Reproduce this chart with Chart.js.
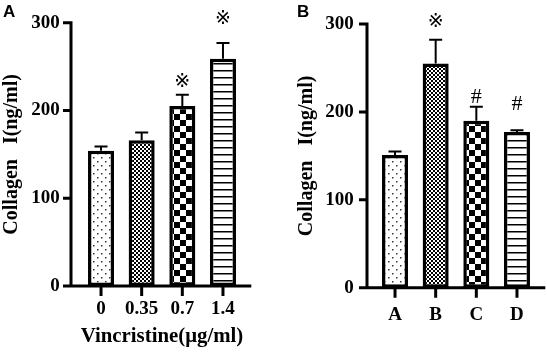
<!DOCTYPE html>
<html>
<head>
<meta charset="utf-8">
<script src="https://cdn.jsdelivr.net/npm/chart.js@4"></script>
<style>
  body { margin: 0; background: #fff; }
  #wrap { position: relative; width: 547px; height: 353px; overflow: hidden; }
  canvas { position: absolute; top: 0; }
  .panel { position: absolute; font: bold 17px "Liberation Sans", Arial, sans-serif; line-height: 17px; }
</style>
</head>
<body>
<div id="wrap">
  <canvas id="chartA" width="295" height="353" style="left:0"></canvas>
  <canvas id="chartB" width="252" height="353" style="left:295px"></canvas>
  <div class="panel" style="left:3px;top:3px">A</div>
  <div class="panel" style="left:297px;top:3px">B</div>
</div>
<script>
// panel A: dose response
const doseLabels = ["0", "0.35", "0.7", "1.4"];
const doseMeans = [154, 166, 205, 259];
const doseSD = [5, 9, 13, 18];
const doseMarks = ["", "", "※", "※"];
const doseMarkAt = [null, null, 232, 304];

// panel B: groups
const groupLabels = ["A", "B", "C", "D"];
const groupMeans = [151, 255, 190, 177];
const groupSD = [4, 27, 16, 2];
const groupMarks = ["", "※", "#", "#"];
const groupMarkAt = [null, 302, 217, 209];

const yTicks = [0, 100, 200, 300];

// fill patterns
function tile(w, h, draw) {
  const c = document.createElement("canvas");
  c.width = w;
  c.height = h;
  const g = c.getContext("2d");
  g.fillStyle = "#fff";
  g.fillRect(0, 0, w, h);
  g.fillStyle = "#000";
  draw(g);
  return g.createPattern(c, "repeat");
}
const dots = tile(8, 8, (g) => {
  g.fillStyle = "#333";
  g.fillRect(1, 1, 1.5, 1.5);
  g.fillRect(5, 5, 1.5, 1.5);
});
const fineChecker = tile(4, 4, (g) => {
  g.fillRect(0, 0, 2, 2);
  g.fillRect(2, 2, 2, 2);
});
const bigChecker = tile(12, 12, (g) => {
  g.fillRect(0, 0, 6, 6);
  g.fillRect(6, 6, 6, 6);
});
const stripes = tile(8, 7, (g) => {
  g.fillRect(0, 0, 8, 1.5);
});
const fills = [dots, fineChecker, bigChecker, stripes];

const serif = "'Liberation Serif', 'Times New Roman', serif";

// axes, error bars and significance marks
const extras = {
  id: "extras",
  afterDatasetsDraw(chart, args, opts) {
    const ctx = chart.ctx;
    const area = chart.chartArea;
    const ys = chart.scales.y;
    const bars = chart.getDatasetMeta(0).data;
    const axisX = area.left - opts.gap;
    const y0 = ys.getPixelForValue(0);
    ctx.save();
    ctx.strokeStyle = "#000";
    // error bars
    ctx.lineWidth = 2;
    bars.forEach((bar, i) => {
      const top = ys.getPixelForValue(opts.means[i] + opts.sd[i]);
      ctx.beginPath();
      ctx.moveTo(bar.x, bar.y);
      ctx.lineTo(bar.x, top);
      ctx.moveTo(bar.x - 6.5, top);
      ctx.lineTo(bar.x + 6.5, top);
      ctx.stroke();
    });
    // axes
    ctx.lineWidth = 3;
    ctx.beginPath();
    ctx.moveTo(axisX, ys.getPixelForValue(yTicks[yTicks.length - 1]) - 1.5);
    ctx.lineTo(axisX, y0);
    yTicks.forEach((v) => {
      const p = ys.getPixelForValue(v);
      ctx.moveTo(axisX - 8, p);
      ctx.lineTo(axisX, p);
    });
    ctx.moveTo(axisX - 8, y0);
    ctx.lineTo(area.right + 8, y0);
    bars.forEach((bar) => {
      ctx.moveTo(bar.x, y0);
      ctx.lineTo(bar.x, y0 + 10);
    });
    ctx.stroke();
    // marks
    ctx.fillStyle = "#000";
    ctx.textAlign = "center";
    ctx.textBaseline = "middle";
    bars.forEach((bar, i) => {
      if (!opts.marks[i]) return;
      const size = opts.marks[i] === "#" ? 22 : 19;
      ctx.font = size + "px " + serif + ", 'DejaVu Sans'";
      ctx.fillText(opts.marks[i], bar.x, ys.getPixelForValue(opts.markAt[i]));
    });
    ctx.restore();
  },
};

function makeChart(id, s) {
  return new Chart(document.getElementById(id), {
    type: "bar",
    data: {
      labels: s.labels,
      datasets: [
        {
          data: s.means,
          backgroundColor: fills,
          borderColor: "#000",
          borderWidth: 3.5,
          borderSkipped: false,
          barPercentage: 0.64,
          categoryPercentage: 1,
        },
      ],
    },
    options: {
      responsive: false,
      animation: false,
      events: [],
      layout: { padding: { left: 0, top: s.top, right: s.right, bottom: 0 } },
      plugins: {
        legend: { display: false },
        tooltip: { enabled: false },
        extras: { gap: s.gap, means: s.means, sd: s.sd, marks: s.marks, markAt: s.markAt },
      },
      scales: {
        x: {
          grid: { display: false },
          border: { display: false },
          afterFit: (scale) => {
            scale.height = s.xHeight;
            scale.paddingLeft = 0;
            scale.paddingRight = 0;
          },
          ticks: {
            color: "#000",
            padding: s.xPad,
            maxRotation: 0,
            font: { family: serif, size: 19, weight: "bold" },
          },
          title: {
            display: !!s.xTitle,
            text: s.xTitle,
            color: "#000",
            padding: { top: 0, bottom: 3 },
            font: { family: serif, size: 22, weight: "bold" },
          },
        },
        y: {
          min: 0,
          max: 300,
          grid: { display: false, drawTicks: false },
          border: { display: false },
          afterFit: (scale) => {
            scale.width = s.yWidth;
            scale.paddingTop = 0;
            scale.paddingBottom = 0;
          },
          afterBuildTicks: (scale) => { scale.ticks = yTicks.map((v) => ({ value: v })); },
          ticks: {
            color: "#000",
            padding: s.yPad,
            font: { family: serif, size: 19, weight: "bold" },
          },
          title: {
            display: true,
            text: "Collagen   I(ng/ml)",
            color: "#000",
            padding: 0,
            font: { family: serif, size: 20, weight: "bold" },
          },
        },
      },
    },
    plugins: [extras],
  });
}

makeChart("chartA", {
  labels: doseLabels, means: doseMeans, sd: doseSD, marks: doseMarks, markAt: doseMarkAt,
  top: 22.7, right: 51.7, xHeight: 67, yWidth: 80.7, gap: 9.7,
  xPad: 4, yPad: 21, xTitle: "Vincristine(μg/ml)",
});
makeChart("chartB", {
  labels: groupLabels, means: groupMeans, sd: groupSD, marks: groupMarks, markAt: groupMarkAt,
  top: 24, right: 9.7, xHeight: 65.3, yWidth: 79.7, gap: 7.7,
  xPad: 8, yPad: 21, xTitle: "",
});
</script>
</body>
</html>
